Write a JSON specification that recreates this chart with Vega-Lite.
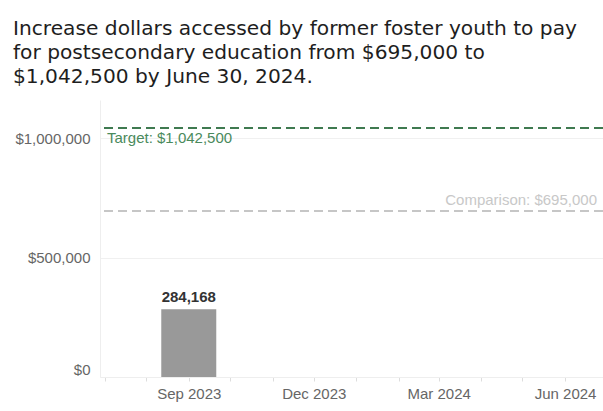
{
  "$schema": "https://vega.github.io/schema/vega-lite/v6.json",
  "width": 503,
  "height": 277,
  "autosize": {"type": "none"},
  "padding": {"left": 100, "top": 100, "right": 0, "bottom": 34},
  "background": "white",
  "title": {
    "text": ["Increase dollars accessed by former foster youth to pay", "for postsecondary education from $695,000 to", "$1,042,500 by June 30, 2024."],
    "font": "DejaVu Sans",
    "fontSize": 20.2,
    "fontWeight": "normal",
    "color": "#1e1e1e",
    "anchor": "start",
    "frame": "group",
    "dx": -87,
    "offset": 13,
    "lineHeight": 24
  },
  "datasets": {
    "bars": [{"date": "2023-09-01", "amount": 284168}],
    "refs": [
      {"name": "Target", "value": 1042500, "label": "Target: $1,042,500"},
      {"name": "Comparison", "value": 695000, "label": "Comparison: $695,000"}
    ]
  },
  "config": {
    "view": {"stroke": null},
    "axis": {"labelFont": "Liberation Sans", "labelFontSize": 15, "labelColor": "#666666", "title": null}
  },
  "layer": [
    {
      "data": {"name": "bars"},
      "mark": {"type": "bar", "size": 55, "color": "#999999"},
      "encoding": {
        "x": {
          "field": "date",
          "type": "temporal",
          "scale": {"type": "utc", "domain": [{"year": 2023, "month": 7, "date": 2, "utc": true}, {"year": 2024, "month": 6, "date": 25, "utc": true}]},
          "axis": {
            "values": [
              {"year": 2023, "month": 7, "date": 2, "utc": true},
              {"year": 2023, "month": 8, "date": 1, "utc": true},
              {"year": 2023, "month": 9, "date": 1, "utc": true},
              {"year": 2023, "month": 10, "date": 1, "utc": true},
              {"year": 2023, "month": 11, "date": 1, "utc": true},
              {"year": 2023, "month": 12, "date": 1, "utc": true},
              {"year": 2024, "month": 1, "date": 1, "utc": true},
              {"year": 2024, "month": 2, "date": 1, "utc": true},
              {"year": 2024, "month": 3, "date": 1, "utc": true},
              {"year": 2024, "month": 4, "date": 1, "utc": true},
              {"year": 2024, "month": 5, "date": 1, "utc": true},
              {"year": 2024, "month": 6, "date": 1, "utc": true}
            ],
            "labelExpr": "utcmonth(datum.value) % 3 == 2 && utcdate(datum.value) == 1 ? utcFormat(datum.value, '%b %Y') : ''",
            "grid": false,
            "ticks": true,
            "tickSize": 4,
            "tickColor": "#dddddd",
            "domain": true,
            "domainColor": "#eeeeee",
            "labelPadding": 5,
            "labelFlush": false,
            "labelOverlap": false
          }
        },
        "y": {
          "field": "amount",
          "type": "quantitative",
          "scale": {"domain": [0, 1160000], "nice": false},
          "axis": {
            "values": [0, 500000, 1000000],
            "format": "$,.0f",
            "grid": true,
            "gridColor": "#f0f0f0",
            "ticks": false,
            "domain": true,
            "domainColor": "#eeeeee",
            "labelPadding": 10,
            "labelFlush": true
          }
        }
      }
    },
    {
      "data": {"name": "bars"},
      "mark": {"type": "text", "baseline": "bottom", "dy": -4, "font": "Liberation Sans", "fontSize": 15, "fontWeight": "bold", "color": "#333333"},
      "encoding": {
        "x": {"field": "date", "type": "temporal"},
        "y": {"field": "amount", "type": "quantitative"},
        "text": {"field": "amount", "type": "quantitative", "format": ","}
      }
    },
    {
      "data": {"name": "refs"},
      "mark": {"type": "rule", "strokeWidth": 2, "strokeDash": [9, 5]},
      "encoding": {
        "y": {"field": "value", "type": "quantitative"},
        "color": {"field": "name", "type": "nominal", "scale": {"domain": ["Target", "Comparison"], "range": ["#3f7a50", "#c6c6c6"]}, "legend": null}
      }
    },
    {
      "data": {"name": "refs"},
      "transform": [{"filter": "datum.name == 'Target'"}],
      "mark": {"type": "text", "align": "left", "baseline": "alphabetic", "dx": 2, "dy": 15, "font": "Liberation Sans", "fontSize": 15, "color": "#4a8a5c"},
      "encoding": {
        "x": {"datum": {"year": 2023, "month": 7, "date": 2, "utc": true}, "type": "temporal"},
        "y": {"field": "value", "type": "quantitative"},
        "text": {"field": "label"}
      }
    },
    {
      "data": {"name": "refs"},
      "transform": [{"filter": "datum.name == 'Comparison'"}],
      "mark": {"type": "text", "align": "right", "baseline": "alphabetic", "dx": -1, "dy": -6, "font": "Liberation Sans", "fontSize": 15, "color": "#c8c8c8"},
      "encoding": {
        "x": {"datum": {"year": 2024, "month": 6, "date": 25, "utc": true}, "type": "temporal"},
        "y": {"field": "value", "type": "quantitative"},
        "text": {"field": "label"}
      }
    }
  ]
}
